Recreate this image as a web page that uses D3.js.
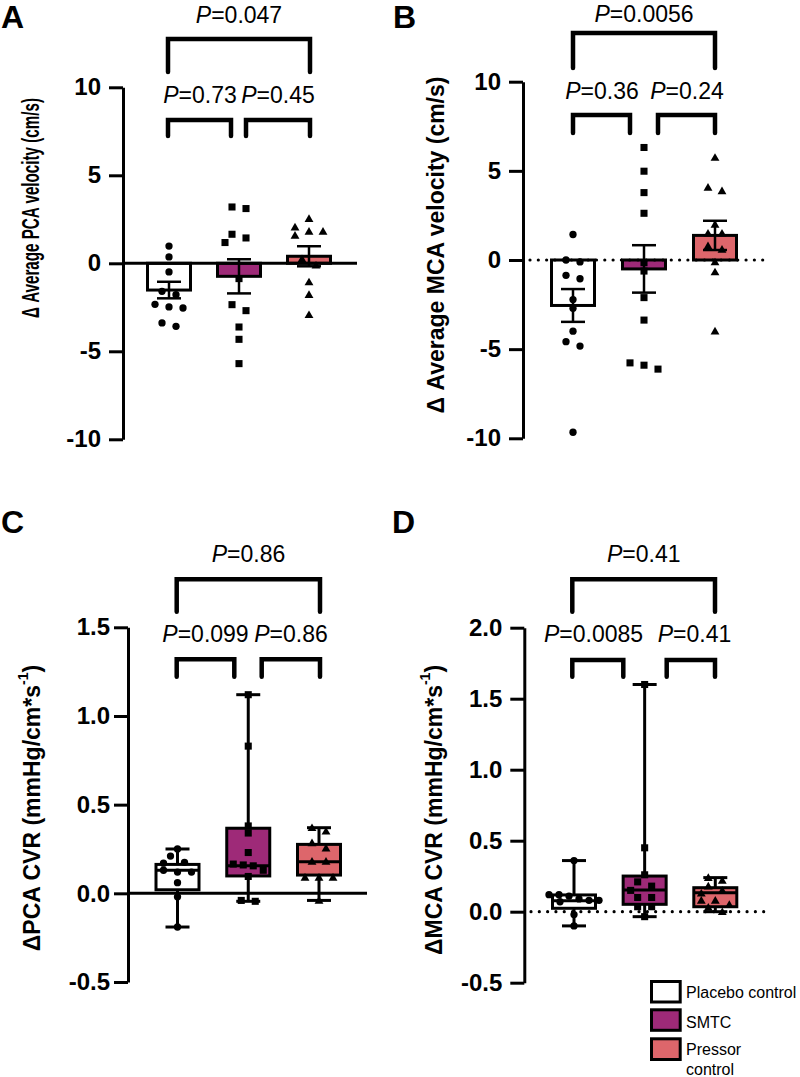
<!DOCTYPE html>
<html><head><meta charset="utf-8">
<script src="https://cdn.jsdelivr.net/npm/d3@7"></script>
<style>
body{margin:0;background:#fff}
svg{display:block}
text{font-family:"Liberation Sans",Arial,Helvetica,sans-serif}
</style>
</head><body>
<svg id="chart" width="800" height="1077"></svg>
<script>
// ---------------- DATA ----------------
const categories = ["Placebo control", "SMTC", "Pressor control"];
const groupColors = ["#ffffff", "#9e2a78", "#dd666b"];
const markerShapes = ["circle", "square", "triangle"];

// Panel A: change in average PCA velocity (cm/s)
const pcaVelPlacebo = [0.98, 0.36, -0.49, -1.59, -1.78, -2.33, -2.48, -2.54, -3.39, -3.58];
const pcaVelSMTC    = [3.11, 3.20, 1.65, 1.18, 1.44, -0.87, -2.35, -2.69, -3.62, -4.32, -5.70];
const pcaVelPressor = [2.54, 2.06, 1.82, 1.82, 1.59, 0.25, -0.11, -1.06, -1.78, -2.92];
const pcaVelMean = [-1.52, -0.74, 0.40];
const pcaVelSEM  = [0.47, 0.97, 0.57];
const pcaVelP    = ["0.73", "0.45", "0.047"];   // 1v2, 2v3, 1v3

// Panel B: change in average MCA velocity (cm/s)
const mcaVelPlacebo = [1.43, 0.0, -0.11, -0.86, -1.05, -2.22, -2.71, -3.99, -4.58, -4.83, -9.66];
const mcaVelSMTC    = [6.31, 4.98, 3.78, 2.62, -0.15, -0.62, -2.11, -3.37, -5.77, -5.90, -6.12];
const mcaVelPressor = [5.75, 4.07, 3.88, 2.0, 1.5, 1.5, 0.79, 0.6, -0.11, -0.67, -3.99];
const mcaVelMean = [-2.55, -0.50, 1.38];
const mcaVelSEM  = [0.92, 1.33, 0.82];
const mcaVelP    = ["0.36", "0.24", "0.0056"];

const velTicks = [-10, -5, 0, 5, 10];

// Panel C: change in PCA CVR
const pcaCvrPlacebo = [0.25, 0.21, 0.175, 0.17, 0.13, 0.12, 0.12, 0.06, -0.02, -0.19];
const pcaCvrSMTC    = [1.12, 0.83, 0.38, 0.34, 0.23, 0.165, 0.16, 0.155, 0.13, 0.095, -0.04, -0.045];
const pcaCvrPressor = [0.37, 0.35, 0.285, 0.255, 0.18, 0.18, 0.09, 0.09, 0.09, -0.04];
// box stats: [min, q1, median, q3, max]
const pcaCvrBoxPlacebo = [-0.19, 0.02, 0.13, 0.163, 0.25];
const pcaCvrBoxSMTC    = [-0.045, 0.098, 0.156, 0.367, 1.12];
const pcaCvrBoxPressor = [-0.04, 0.103, 0.178, 0.276, 0.37];
const pcaCvrP = ["0.099", "0.86", "0.86"];
const pcaCvrTicks = [-0.5, 0, 0.5, 1.0, 1.5];

// Panel D: change in MCA CVR
const mcaCvrPlacebo = [0.36, 0.12, 0.12, 0.11, 0.09, 0.08, 0.08, 0.07, -0.02, -0.10];
const mcaCvrSMTC    = [1.60, 0.45, 0.26, 0.21, 0.18, 0.15, 0.10, 0.10, 0.035, 0.035, -0.035];
const mcaCvrPressor = [0.24, 0.22, 0.18, 0.15, 0.13, 0.08, 0.08, 0.05, 0.03, 0.0];
const mcaCvrBoxPlacebo = [-0.10, 0.024, 0.077, 0.118, 0.36];
const mcaCvrBoxSMTC    = [-0.035, 0.052, 0.153, 0.251, 1.60];
const mcaCvrBoxPressor = [0.0, 0.035, 0.134, 0.169, 0.24];
const mcaCvrP = ["0.0085", "0.41", "0.41"];
const mcaCvrTicks = [-0.5, 0, 0.5, 1.0, 1.5, 2.0];

// ---------------- LAYOUT ----------------
const svg = d3.select("#chart");
const FONT = '"Liberation Sans",Arial,Helvetica,sans-serif';

const panels = [
  {letter:"A", lx:1, ly:28, type:"bar",
   groups:[pcaVelPlacebo, pcaVelSMTC, pcaVelPressor], mean:pcaVelMean, sem:pcaVelSEM,
   p:pcaVelP, ticks:velTicks, fmt:d=>String(d),
   axisX:123, yDomain:[-10,10], yRange:[439.3,87.3], xRange:[169,309],
   zero:"solid", zeroX2:357, tickPad:8,
   label:["Δ Average PCA velocity ", "(cm/s)"], labelX:31, labelY:208, labelLen:220,
   br:{topY:39, topLeg:72, x1:168, x2:310, lowY:120, lowLeg:136, lx2:231, rx1:246,
       topTY:23, lowTY:103, t1x:200, t2x:278, t3x:239}},
  {letter:"B", lx:393, ly:28, type:"bar",
   groups:[mcaVelPlacebo, mcaVelSMTC, mcaVelPressor], mean:mcaVelMean, sem:mcaVelSEM,
   p:mcaVelP, ticks:velTicks, fmt:d=>String(d),
   axisX:523, yDomain:[-10,10], yRange:[438.3,81.7], xRange:[573,715],
   zero:"dotted", zeroX1:530, zeroX2:764, tickPad:8,
   label:["Δ Average MCA velocity ", "(cm/s)"], labelX:436, labelY:245, labelLen:null,
   br:{topY:33, topLeg:68, x1:573, x2:715, lowY:115, lowLeg:133, lx2:630, rx1:658,
       topTY:22, lowTY:99, t1x:602, t2x:687, t3x:644}},
  {letter:"C", lx:1, ly:533, type:"box",
   groups:[pcaCvrPlacebo, pcaCvrSMTC, pcaCvrPressor], box:[pcaCvrBoxPlacebo, pcaCvrBoxSMTC, pcaCvrBoxPressor],
   p:pcaCvrP, ticks:pcaCvrTicks, fmt:d=>d.toFixed(1),
   axisX:128, yDomain:[-0.5,1.5], yRange:[982,627.3], xRange:[177.5,319],
   zero:"solid", zeroX2:367, tickPad:4,
   label:["ΔPCA CVR ", "(mmHg/cm*s", "-1", ")"], labelX:32, labelY:808, labelLen:null,
   br:{topY:579.3, topLeg:611.7, x1:176.7, x2:320, lowY:659.3, lowLeg:676.7, lx2:234.3, rx1:261.7,
       topTY:562, lowTY:642, t1x:205.5, t2x:291, t3x:248.5}},
  {letter:"D", lx:392, ly:533, type:"box",
   groups:[mcaCvrPlacebo, mcaCvrSMTC, mcaCvrPressor], box:[mcaCvrBoxPlacebo, mcaCvrBoxSMTC, mcaCvrBoxPressor],
   p:mcaCvrP, ticks:mcaCvrTicks, fmt:d=>d.toFixed(1),
   axisX:524.3, yDomain:[-0.5,2.0], yRange:[982.7,627.7], xRange:[574,715.3],
   zero:"dotted", zeroX1:531, zeroX2:764, tickPad:8,
   label:["ΔMCA CVR ", "(mmHg/cm*s", "-1", ")"], labelX:434, labelY:810, labelLen:null,
   br:{topY:579.3, topLeg:611.7, x1:572.3, x2:715, lowY:660, lowLeg:676.7, lx2:623.3, rx1:666.7,
       topTY:562, lowTY:642, t1x:593.5, t2x:694.5, t3x:643.7}}
];

const BAR_W = 43, CAP_W = 24;

function swarm(values, y, cx) {
  const pts = values.map(v => ({v, py: y(v)})).sort((a, b) => a.py - b.py);
  const groups = []; let cur = null;
  for (const p of pts) {
    if (cur && p.py - cur[0].py < 7) cur.push(p); else { cur = [p]; groups.push(cur); }
  }
  groups.forEach(g => {
    const sp = g.length > 3 ? 10 : 14;
    g.forEach((p, i) => p.dx = (i - (g.length - 1) / 2) * sp);
  });
  const placed = [];
  for (const p of pts) {
    const cands = [p.dx, p.dx + 14, p.dx - 14, p.dx + 7, p.dx - 7, p.dx + 21, p.dx - 21];
    for (const c of cands) {
      if (!placed.some(q => Math.abs(q.dx - c) < 9 && Math.abs(q.py - p.py) < 6.5)) { p.dx = c; break; }
    }
    placed.push(p);
  }
  return pts.map(p => ({v: p.v, px: cx + p.dx, py: p.py}));
}

const symbolFor = {
  circle: d3.symbol().type(d3.symbolCircle).size(42),
  square: d3.symbol().type(d3.symbolSquare).size(50),
  triangle: d3.symbol().type(d3.symbolTriangle).size(34)
};

panels.forEach(P => {
  const g = svg.append("g");
  const y = d3.scaleLinear().domain(P.yDomain).range(P.yRange);
  const x = d3.scalePoint().domain(categories).range(P.xRange);

  // panel letter
  g.append("text").attr("x", P.lx).attr("y", P.ly).attr("font-size", 32).attr("font-weight", "bold")
    .attr("font-family", FONT).text(P.letter);

  // y axis
  const ax = g.append("g").attr("transform", `translate(${P.axisX},0)`)
    .call(d3.axisLeft(y).tickValues(P.ticks).tickFormat(P.fmt).tickSize(14).tickSizeOuter(0).tickPadding(P.tickPad));
  ax.select(".domain").attr("stroke-width", 3).attr("stroke", "#000");
  ax.selectAll(".tick line").attr("stroke-width", 3).attr("stroke", "#000");
  ax.selectAll(".tick text").attr("font-size", 24).attr("font-weight", "bold").attr("font-family", FONT).attr("fill", "#000");

  // y label
  const lab = g.append("text")
    .attr("transform", `translate(${P.labelX},${P.labelY}) rotate(-90)`)
    .attr("text-anchor", "middle").attr("dominant-baseline", "central")
    .attr("font-size", 23).attr("font-weight", "bold").attr("font-family", FONT);
  if (P.labelLen) lab.attr("textLength", P.labelLen).attr("lengthAdjust", "spacingAndGlyphs");
  lab.append("tspan").text(P.label[0]);
  if (P.label.length === 2) {
    lab.append("tspan").text(P.label[1]);
  } else {
    lab.append("tspan").text(P.label[1]);
    lab.append("tspan").attr("font-size", 14).attr("dy", -9).text(P.label[2]);
    lab.append("tspan").attr("dy", 9).text(P.label[3]);
  }

  if (P.type === "bar") {
    categories.forEach((c, i) => {
      const m = P.mean[i];
      g.append("rect").attr("x", x(c) - BAR_W / 2).attr("width", BAR_W)
        .attr("y", Math.min(y(0), y(m))).attr("height", Math.abs(y(m) - y(0)))
        .attr("fill", groupColors[i]).attr("stroke", "#000").attr("stroke-width", 3);
    });
  } else {
    categories.forEach((c, i) => {
      const [mn, q1, md, q3, mx] = P.box[i];
      const cx = x(c);
      [mn, mx].forEach(v => g.append("line").attr("x1", cx - CAP_W / 2).attr("x2", cx + CAP_W / 2)
        .attr("y1", y(v)).attr("y2", y(v)).attr("stroke", "#000").attr("stroke-width", 3));
      g.append("rect").attr("x", cx - BAR_W / 2).attr("width", BAR_W)
        .attr("y", y(q3)).attr("height", y(q1) - y(q3))
        .attr("fill", groupColors[i]).attr("stroke", "#000").attr("stroke-width", 3);
      g.append("line").attr("x1", cx - BAR_W / 2).attr("x2", cx + BAR_W / 2)
        .attr("y1", y(md)).attr("y2", y(md)).attr("stroke", "#000").attr("stroke-width", 3);
      g.append("line").attr("x1", cx).attr("x2", cx).attr("y1", y(mx)).attr("y2", y(q3))
        .attr("stroke", "#000").attr("stroke-width", 3);
      g.append("line").attr("x1", cx).attr("x2", cx).attr("y1", y(q1)).attr("y2", y(mn))
        .attr("stroke", "#000").attr("stroke-width", 3);
    });
  }

  // zero line
  if (P.zero === "solid") {
    g.append("line").attr("x1", P.axisX).attr("x2", P.zeroX2).attr("y1", y(0)).attr("y2", y(0))
      .attr("stroke", "#000").attr("stroke-width", 3);
  } else {
    g.append("line").attr("x1", P.zeroX1).attr("x2", P.zeroX2).attr("y1", y(0)).attr("y2", y(0))
      .attr("stroke", "#000").attr("stroke-width", 3.2).attr("stroke-linecap", "round")
      .attr("stroke-dasharray", "0.01 8.3");
  }

  // points
  categories.forEach((c, i) => {
    const pts = swarm(P.groups[i], y, x(c));
    g.selectAll(null).data(pts).enter().append("path")
      .attr("d", symbolFor[markerShapes[i]])
      .attr("transform", d => `translate(${d.px},${d.py + (markerShapes[i] === "triangle" ? 0.8 : 0)})`)
      .attr("fill", "#000");
  });

  // error bars (mean ± SEM)
  if (P.type === "bar") {
    categories.forEach((c, i) => {
      const cx = x(c), lo = P.mean[i] - P.sem[i], hi = P.mean[i] + P.sem[i];
      g.append("line").attr("x1", cx).attr("x2", cx).attr("y1", y(lo)).attr("y2", y(hi))
        .attr("stroke", "#000").attr("stroke-width", 2.5);
      [lo, hi].forEach(v => g.append("line").attr("x1", cx - CAP_W / 2).attr("x2", cx + CAP_W / 2)
        .attr("y1", y(v)).attr("y2", y(v)).attr("stroke", "#000").attr("stroke-width", 2.5));
    });
  }

  // significance brackets
  const B = P.br;
  const brk = (x1, x2, yy, leg) => g.append("path")
    .attr("d", `M${x1},${leg}V${yy}H${x2}V${leg}`)
    .attr("fill", "none").attr("stroke", "#000").attr("stroke-width", 4.5)
    .attr("stroke-linecap", "round").attr("stroke-linejoin", "miter");
  brk(B.x1, B.x2, B.topY, B.topLeg);
  brk(B.x1, B.lx2, B.lowY, B.lowLeg);
  brk(B.rx1, B.x2, B.lowY, B.lowLeg);
  const ptext = (tx, ty, val) => {
    const t = g.append("text").attr("x", tx).attr("y", ty).attr("text-anchor", "middle")
      .attr("font-size", 23).attr("font-family", FONT);
    t.append("tspan").attr("font-style", "italic").text("P");
    t.append("tspan").text("=" + val);
  };
  ptext(B.t1x, B.lowTY, P.p[0]);
  ptext(B.t2x, B.lowTY, P.p[1]);
  ptext(B.t3x, B.topTY, P.p[2]);
});

// legend
const legendRows = [
  {y: 981.5, h: 20.5, ty: [997.5]},
  {y: 1009.8, h: 20.5, ty: [1027.5]},
  {y: 1038.8, h: 20.7, ty: [1055, 1075]}
];
const lg = svg.append("g");
categories.forEach((c, i) => {
  const r = legendRows[i];
  lg.append("rect").attr("x", 651.5).attr("y", r.y).attr("width", 28.7).attr("height", r.h)
    .attr("fill", groupColors[i]).attr("stroke", "#000").attr("stroke-width", 3);
  const words = i === 2 ? c.split(" ") : [c];
  words.forEach((w, k) => lg.append("text").attr("x", 686).attr("y", r.ty[k])
    .attr("font-size", 16).attr("font-family", FONT).text(w));
});
</script>
</body></html>
